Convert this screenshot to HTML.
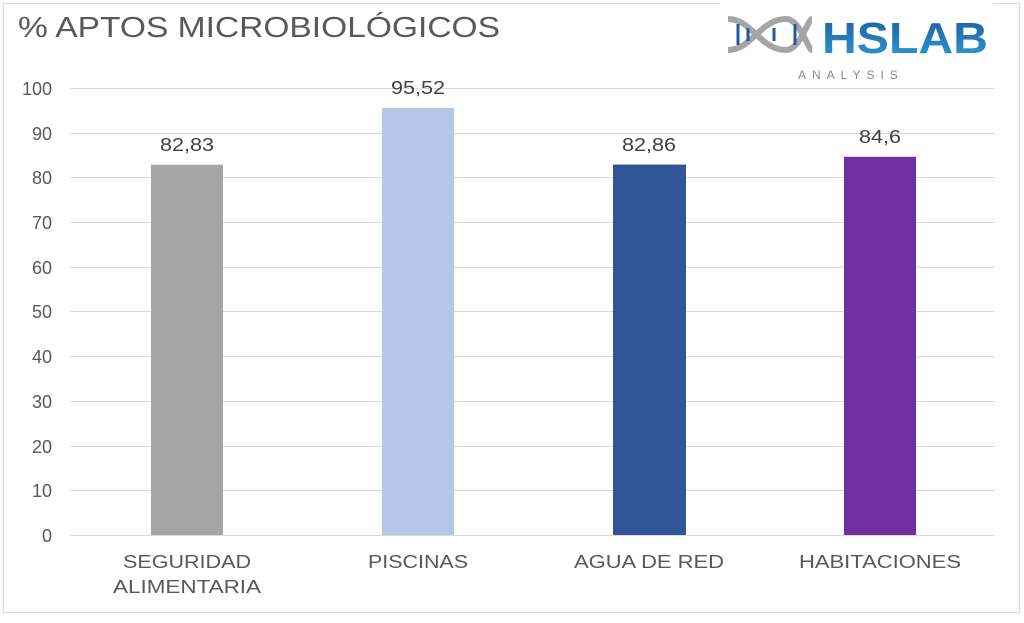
<!DOCTYPE html>
<html><head><style>
body{margin:0;width:1024px;height:618px;background:#fff;overflow:hidden;font-family:"Liberation Sans",sans-serif}
</style></head><body>
<svg width="1024" height="618" xmlns="http://www.w3.org/2000/svg">
<rect x="3.5" y="3.5" width="1016" height="609" fill="#fff" stroke="#d9d9d9"/>
<text x="18" y="37" font-size="29" fill="#595959" textLength="482" lengthAdjust="spacingAndGlyphs">% APTOS MICROBIOLÓGICOS</text>
<g stroke="#d9d9d9" stroke-width="1">
<line x1="70" x2="995" y1="88.5" y2="88.5"/><line x1="70" x2="995" y1="133.5" y2="133.5"/>
<line x1="70" x2="995" y1="177.5" y2="177.5"/><line x1="70" x2="995" y1="222.5" y2="222.5"/>
<line x1="70" x2="995" y1="267.5" y2="267.5"/><line x1="70" x2="995" y1="311.5" y2="311.5"/>
<line x1="70" x2="995" y1="356.5" y2="356.5"/><line x1="70" x2="995" y1="401.5" y2="401.5"/>
<line x1="70" x2="995" y1="446.5" y2="446.5"/><line x1="70" x2="995" y1="490.5" y2="490.5"/>
<line x1="70" x2="995" y1="535.5" y2="535.5"/>
</g>
<g font-size="18" fill="#595959" text-anchor="end">
<text x="52" y="95">100</text><text x="52" y="140">90</text><text x="52" y="184">80</text>
<text x="52" y="229">70</text><text x="52" y="274">60</text><text x="52" y="318">50</text>
<text x="52" y="363">40</text><text x="52" y="408">30</text><text x="52" y="453">20</text>
<text x="52" y="497">10</text><text x="52" y="542">0</text>
</g>
<rect x="151" y="164.7" width="72" height="370.3" fill="#a5a5a5"/>
<rect x="382" y="108" width="72" height="427" fill="#b4c7e7"/>
<rect x="613" y="164.6" width="73" height="370.4" fill="#2f5597"/>
<rect x="844" y="156.8" width="72" height="378.2" fill="#7030a0"/>
<g font-size="18" fill="#404040" text-anchor="middle" lengthAdjust="spacingAndGlyphs">
<text x="187" y="151" textLength="54" lengthAdjust="spacingAndGlyphs">82,83</text><text x="418" y="94" textLength="54" lengthAdjust="spacingAndGlyphs">95,52</text>
<text x="649" y="151" textLength="54" lengthAdjust="spacingAndGlyphs">82,86</text><text x="880" y="143" textLength="42" lengthAdjust="spacingAndGlyphs">84,6</text>
</g>
<g font-size="18" fill="#595959" text-anchor="middle">
<text x="187" y="568" textLength="128" lengthAdjust="spacingAndGlyphs">SEGURIDAD</text><text x="187" y="593" textLength="148" lengthAdjust="spacingAndGlyphs">ALIMENTARIA</text>
<text x="418" y="568" textLength="100" lengthAdjust="spacingAndGlyphs">PISCINAS</text><text x="649" y="568" textLength="150" lengthAdjust="spacingAndGlyphs">AGUA DE RED</text>
<text x="880" y="568" textLength="162" lengthAdjust="spacingAndGlyphs">HABITACIONES</text>
</g>
<rect x="720" y="0" width="273" height="87" fill="#fff"/>
<defs><linearGradient id="g" x1="0" y1="0" x2="0" y2="1"><stop offset="0" stop-color="#1f5aa0"/><stop offset="1" stop-color="#2a9fd6"/></linearGradient></defs>
<g fill="none" stroke="#a5a5a5" stroke-width="6">
<path d="M728 19 C752 19,760 50,786 50 C800 50,808 19,812 19"/>
<path d="M728 50 C752 50,760 19,786 19 C800 19,808 50,812 50"/>
</g>
<g stroke="#1f5aa0" stroke-width="3"><line x1="738" y1="24" x2="738" y2="45"/><line x1="748" y1="28" x2="748" y2="41"/><line x1="774" y1="28" x2="774" y2="41"/><line x1="795" y1="24" x2="795" y2="45"/></g>
<text x="822" y="53" font-size="44" font-weight="bold" fill="url(#g)" textLength="166" lengthAdjust="spacingAndGlyphs">HSLAB</text>
<text x="798" y="79" font-size="12" fill="#8a8a8a" letter-spacing="6">ANALYSIS</text>
</svg>
</body></html>
